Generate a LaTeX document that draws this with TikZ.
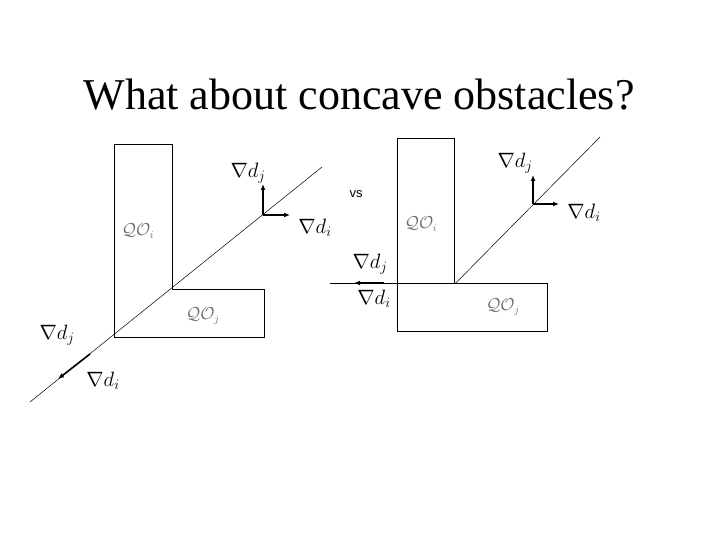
\documentclass[tikz,border=0pt]{standalone}
\usepackage{fontspec}
\setmainfont{Liberation Serif}
\setsansfont{Liberation Sans}
\usepackage{tikz}
\usetikzlibrary{arrows.meta,calc,positioning}
\definecolor{QOgris}{RGB}{110,110,110}
\tikzset{
  obst/.style={draw=black, line width=0.9pt},
  raya/.style={draw=black, line width=0.5pt},
  grad/.style={line width=1.6pt, -{Latex[length=6pt,width=5pt]}},
  etq/.style={font=\fontsize{21}{24}\selectfont, inner sep=0pt},
  qo/.style={font=\fontsize{16}{18}\selectfont\color{QOgris}, inner sep=0pt}
}

\begin{document}
\begin{tikzpicture}[x=1pt,y=-1pt]
\useasboundingbox (0,0) rectangle (720,540);
\node[font=\fontsize{44}{50}\selectfont, inner sep=0pt] (titulo) at (359,95) {What about concave obstacles?};

% obstaculo concavo (izquierda)
\draw[obst] (114,144) -- (172,144) -- (172,289) -- (264,289) -- (264,337) -- (114,337) -- cycle;
\coordinate (abajoL) at (30,402);
\coordinate (arribaL) at (322,167);
\draw[raya] (abajoL) -- (arribaL);
\coordinate (oL) at (263,215);
\coordinate (oLup) at (263,184);
\coordinate (oLder) at (290,215);
\draw[grad] (oL) -- (oLup);
\draw[grad] (oL) -- (oLder);
\coordinate (bL) at (90,354);
\coordinate (bLtip) at (58,379);
\draw[grad] (bL) -- (bLtip);
\node[qo] (qoiL) at (138,231) {$\mathcal{Q}\mathcal{O}_i$};
\node[qo] (qojL) at (203,316) {$\mathcal{Q}\mathcal{O}_j$};
\node[etq] (djL) at (248,173) {$\nabla d_j$};
\node[etq] (diL) at (315,228) {$\nabla d_i$};
\node[etq] (djB) at (57,335) {$\nabla d_j$};
\node[etq] (diB) at (103,381) {$\nabla d_i$};

\node[font=\sffamily\fontsize{13}{15}\selectfont, inner sep=0pt] (vs) at (356,194) {vs};

% obstaculo con rectangulos separados (derecha)
\node[obst, minimum width=57pt, minimum height=145pt, inner sep=0pt, anchor=north west] (altoR) at (397,138) {};
\node[obst, minimum width=150pt, minimum height=48pt, inner sep=0pt, anchor=north west] (anchoR) at (397,283) {};
\coordinate (izqR) at (330,283);
\coordinate (arribaR) at (600,137);
\draw[raya] (izqR) -- (anchoR.north west);
\draw[raya] (altoR.south east) -- (arribaR);
\coordinate (oR) at (533,204);
\coordinate (oRup) at (533,175);
\coordinate (oRder) at (559,204);
\draw[grad] (oR) -- (oRup);
\draw[grad] (oR) -- (oRder);
\coordinate (hR) at (384,283);
\coordinate (hRtip) at (354,283);
\draw[grad] (hR) -- (hRtip);
\node[qo] (qoiR) at (421,224) {$\mathcal{Q}\mathcal{O}_i$};
\node[qo] (qojR) at (503,307) {$\mathcal{Q}\mathcal{O}_j$};
\node[etq] (djR) at (515,163) {$\nabla d_j$};
\node[etq] (diR) at (584,213) {$\nabla d_i$};
\node[etq] (djH) at (370,264) {$\nabla d_j$};
\node[etq] (diH) at (374,299) {$\nabla d_i$};
\end{tikzpicture}
\end{document}
